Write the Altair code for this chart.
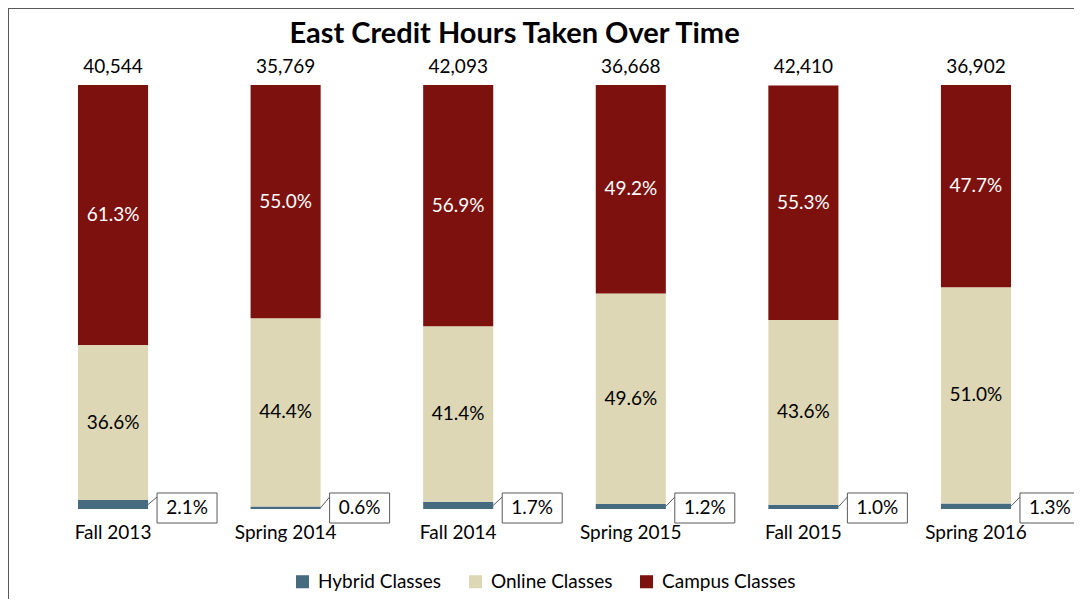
import altair as alt
import pandas as pd

terms = ["Fall 2013", "Spring 2014", "Fall 2014", "Spring 2015", "Fall 2015", "Spring 2016"]
totals = [40544, 35769, 42093, 36668, 42410, 36902]
hybrid = [2.1, 0.6, 1.7, 1.2, 1.0, 1.3]
online = [36.6, 44.4, 41.4, 49.6, 43.6, 51.0]
campus = [61.3, 55.0, 56.9, 49.2, 55.3, 47.7]

series = ["Hybrid Classes", "Online Classes", "Campus Classes"]
colors = ["#466A80", "#DDD7B6", "#7C110D"]
FONT = "Lato"

rows = []
for i, t in enumerate(terms):
    start = 0.0
    for k, (s, vals) in enumerate(zip(series, [hybrid, online, campus])):
        v = vals[i]
        rows.append({"term": t, "series": s, "order": k, "pct": v,
                     "mid": start + v / 2, "label": f"{v:.1f}%"})
        start += v
long_df = pd.DataFrame(rows)

wide_df = pd.DataFrame({"term": terms, "total": totals, "hybrid": hybrid,
                        "hmid": [h / 2 for h in hybrid],
                        "hlabel": [f"{h:.1f}%" for h in hybrid]})
wide_df["top"] = [h + o + c for h, o, c in zip(hybrid, online, campus)]

xscale = alt.Scale(domain=terms, paddingInner=0.594, paddingOuter=0.2955)
yscale = alt.Scale(domain=[0, 100], nice=False, zero=True)
X = alt.X("term:N", scale=xscale, sort=terms,
          axis=alt.Axis(title=None, labelAngle=0, ticks=False, domain=False,
                        labelFontSize=19, labelFont=FONT, labelColor="black",
                        labelPadding=14))

bars = alt.Chart(long_df).mark_bar().encode(
    x=X,
    y=alt.Y("pct:Q", stack="zero", scale=yscale, axis=None),
    order=alt.Order("order:Q", sort="ascending"),
    color=alt.Color("series:N", scale=alt.Scale(domain=series, range=colors),
                    legend=alt.Legend(title=None, orient="none", direction="horizontal",
                                      legendX=266, legendY=487, symbolType="square",
                                      symbolSize=170, symbolStrokeWidth=0,
                                      labelFontSize=19, labelFont=FONT, labelColor="black",
                                      columnPadding=24, padding=0, labelOffset=6)),
)

seg_labels = alt.Chart(long_df).transform_filter(
    alt.datum.order > 0
).mark_text(fontSize=19, font=FONT, baseline="middle").encode(
    x=alt.X("term:N", scale=xscale, sort=terms),
    y=alt.Y("mid:Q", scale=yscale),
    text="label:N",
    color=alt.Color("series:N", scale=alt.Scale(domain=series, range=["black", "black", "white"]),
                    legend=None),
)

total_labels = alt.Chart(wide_df).mark_text(fontSize=19, font=FONT, baseline="alphabetic",
                                            dy=-12, color="black").encode(
    x=alt.X("term:N", scale=xscale, sort=terms),
    y=alt.Y("top:Q", scale=yscale),
    text=alt.Text("total:Q", format=","),
)

leaders = alt.Chart(wide_df).mark_rule(color="#595959", strokeWidth=1,
                                       xOffset=35, x2Offset=44, y2Offset=-12).encode(
    x=alt.X("term:N", scale=xscale, sort=terms),
    x2=alt.X2("term:N"),
    y=alt.Y("hmid:Q", scale=yscale),
    y2=alt.Y2Datum(0),
)

boxes = alt.Chart(wide_df).mark_point(
    shape="M-1,-0.5L1,-0.5L1,0.5L-1,0.5Z", size=3600, filled=True,
    fill="white", stroke="#595959", strokeWidth=1, opacity=1,
    xOffset=74, yOffset=-1).encode(
    x=alt.X("term:N", scale=xscale, sort=terms),
    y=alt.YDatum(0, scale=yscale),
)

box_text = alt.Chart(wide_df).mark_text(fontSize=19, font=FONT, baseline="middle",
                                        color="black", xOffset=74, yOffset=-1).encode(
    x=alt.X("term:N", scale=xscale, sort=terms),
    y=alt.YDatum(0, scale=yscale),
    text="hlabel:N",
)

border = alt.Chart(wide_df).mark_rect(fill=None, stroke="#595959", strokeWidth=1).encode(
    x=alt.value(-18.5), x2=alt.value(1100), y=alt.value(-76.5), y2=alt.value(700),
)

chart = alt.layer(bars, seg_labels, total_labels, leaders, boxes, box_text, border).resolve_scale(
    color="independent"
).properties(
    width=1035, height=424,
    title=alt.Title("East Credit Hours Taken Over Time", font=FONT, fontSize=29,
                    fontWeight="bold", color="black", dx=-30, offset=-63.5,
                    baseline="alphabetic"),
    autosize=alt.AutoSizeParams(type="none"),
    padding={"left": 19, "top": 77, "right": 12, "bottom": 90},
).configure_view(stroke=None)

chart.save("out.html", embed_options={"renderer": "svg", "actions": False})
